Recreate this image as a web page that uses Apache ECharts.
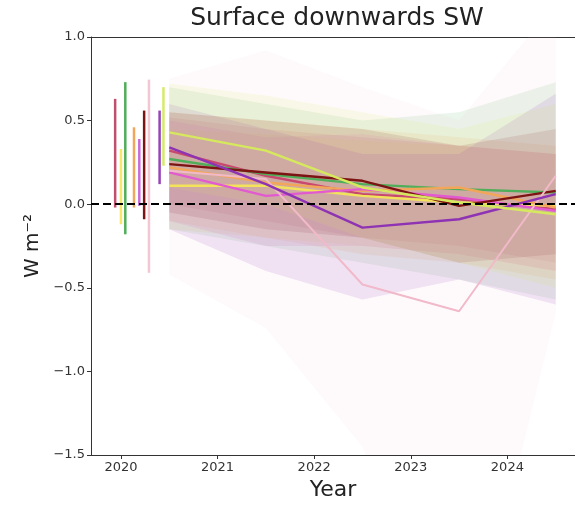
<!DOCTYPE html>
<html>
<head>
<meta charset="utf-8">
<script src="https://cdn.jsdelivr.net/npm/echarts@6/dist/echarts.min.js"></script>
<style>
  html, body { margin: 0; padding: 0; background: #fff; }
  #chart { width: 575px; height: 507px; }
</style>
</head>
<body>
<div id="chart"></div>
<script>
// years of the projection points
const years = [2020.5, 2021.5, 2022.5, 2023.5, 2024.5];
const xTicks = [2020, 2021, 2022, 2023, 2024];
const yTicks = [-1.5, -1.0, -0.5, 0.0, 0.5, 1.0];

// one colour per model
const colors = ['#c9486f', '#f3e35a', '#4fae5a', '#f2a65a', '#e25ad0', '#7d1414', '#f1b9c9', '#8e33b3', '#d6e95e'];
// colour of the short error bars (same models)
const barColors = ['#c0506e', '#f6e66a', '#4fae5a', '#f2a65a', '#c86ad8', '#7d1414', '#f3c6d2', '#9645b8', '#d6ea6a'];

// model means
const means = [
  [0.32, 0.17, 0.06, 0.03, -0.03],
  [0.11, 0.11, 0.05, 0.01, -0.01],
  [0.27, 0.18, 0.12, 0.09, 0.07],
  [0.22, 0.13, 0.08, 0.10, -0.02],
  [0.19, 0.05, 0.09, 0.04, -0.04],
  [0.24, 0.19, 0.14, -0.01, 0.08],
  [0.20, 0.15, -0.48, -0.64, 0.17],
  [0.34, 0.12, -0.14, -0.09, 0.06],
  [0.43, 0.32, 0.10, 0.01, -0.06]
];
// upper edge of the spread
const uppers = [
  [0.52, 0.45, 0.40, 0.35, 0.30],
  [0.45, 0.42, 0.38, 0.35, 0.30],
  [0.70, 0.60, 0.50, 0.55, 0.73],
  [0.55, 0.50, 0.45, 0.40, 0.35],
  [0.50, 0.40, 0.42, 0.35, 0.30],
  [0.55, 0.50, 0.45, 0.35, 0.45],
  [0.75, 0.92, 0.70, 0.50, 1.20],
  [0.60, 0.45, 0.30, 0.30, 0.66],
  [0.72, 0.65, 0.55, 0.45, 0.60]
];
// lower edge of the spread
const lowers = [
  [0.00, -0.10, -0.20, -0.25, -0.35],
  [-0.15, -0.20, -0.25, -0.30, -0.40],
  [-0.15, -0.25, -0.35, -0.45, -0.57],
  [-0.10, -0.20, -0.30, -0.35, -0.45],
  [-0.10, -0.25, -0.25, -0.30, -0.40],
  [-0.05, -0.15, -0.20, -0.35, -0.30],
  [-0.42, -0.74, -1.45, -3.00, -0.65],
  [-0.15, -0.40, -0.57, -0.45, -0.60],
  [0.10, 0.00, -0.20, -0.35, -0.50]
];

// error bars for the reference period
const barX = [2019.94, 2020.0, 2020.045, 2020.135, 2020.19, 2020.24, 2020.29, 2020.40, 2020.44];
const barLow = [-0.02, -0.12, -0.18, -0.02, -0.01, -0.09, -0.41, 0.12, 0.23];
const barHigh = [0.63, 0.33, 0.73, 0.46, 0.39, 0.56, 0.745, 0.56, 0.70];

const bandAlpha = [0.13, 0.13, 0.12, 0.13, 0.12, 0.13, 0.07, 0.12, 0.12];

function hexA(hex, a) {
  const n = parseInt(hex.slice(1), 16);
  return 'rgba(' + (n >> 16) + ',' + ((n >> 8) & 255) + ',' + (n & 255) + ',' + a + ')';
}

const chart = echarts.init(document.getElementById('chart'));
const font = 'DejaVu Sans';
const series = [];

// shaded spreads
means.forEach((m, i) => {
  series.push({
    type: 'custom',
    clip: true,
    z: 1,
    silent: true,
    data: years.map((y, k) => [y, uppers[i][k], lowers[i][k]]),
    renderItem: (params, api) => {
      if (params.dataIndex !== 0) return;
      const top = years.map((y, k) => api.coord([y, uppers[i][k]]));
      const bot = years.map((y, k) => api.coord([y, lowers[i][k]])).reverse();
      return {
        type: 'polygon',
        shape: { points: top.concat(bot) },
        style: { fill: hexA(colors[i], bandAlpha[i]), stroke: 'none' }
      };
    }
  });
});

// mean lines
means.forEach((m, i) => {
  series.push({
    type: 'line',
    z: 3,
    symbol: 'none',
    data: years.map((y, k) => [y, m[k]]),
    lineStyle: { color: colors[i], width: i === 6 ? 2 : 2.4 },
    silent: true
  });
});

// error bars
series.push({
  type: 'custom',
  z: 4,
  silent: true,
  data: barX.map((x, k) => [x, barLow[k], barHigh[k]]),
  renderItem: (params, api) => {
    const k = params.dataIndex;
    const p0 = api.coord([api.value(0), api.value(1)]);
    const p1 = api.coord([api.value(0), api.value(2)]);
    return {
      type: 'line',
      shape: { x1: p0[0], y1: p0[1], x2: p1[0], y2: p1[1] },
      style: { stroke: barColors[k], lineWidth: 2.5 }
    };
  }
});

// zero line
series.push({
  type: 'line',
  z: 5,
  data: [],
  markLine: {
    silent: true,
    symbol: 'none',
    label: { show: false },
    lineStyle: { color: '#000', type: [8, 4], width: 2 },
    data: [{ yAxis: 0 }]
  }
});

const axisFont = { fontFamily: font, fontSize: 13, color: '#333' };

chart.setOption({
  animation: false,
  title: {
    text: 'Surface downwards SW',
    left: 332,
    textAlign: 'center',
    top: 1,
    textStyle: { fontFamily: font, fontSize: 25, fontWeight: 'normal', color: '#222' }
  },
  grid: { left: 91, right: 0, top: 37, bottom: 52 },
  xAxis: [{
    type: 'value',
    min: 2019.69,
    max: 2024.70,
    name: 'Year',
    nameLocation: 'middle',
    nameGap: 24,
    nameTextStyle: { fontFamily: font, fontSize: 22, color: '#222' },
    splitLine: { show: false },
    axisLine: { onZero: false, lineStyle: { color: '#333' } },
    axisTick: { length: 4, customValues: xTicks, lineStyle: { color: '#333' } },
    axisLabel: Object.assign({ customValues: xTicks, margin: 6, formatter: v => String(v) }, axisFont)
  }, {
    type: 'value',
    position: 'top',
    min: 2019.69,
    max: 2024.70,
    splitLine: { show: false },
    axisLine: { show: true, onZero: false, lineStyle: { color: '#333' } },
    axisTick: { show: false },
    axisLabel: { show: false }
  }],
  yAxis: {
    type: 'value',
    min: yTicks[0],
    max: yTicks[yTicks.length - 1],
    interval: 0.5,
    name: 'W m\u207B\u00B2',
    nameLocation: 'middle',
    nameRotate: 90,
    nameGap: 39,
    nameTextStyle: { fontFamily: font, fontSize: 20, color: '#222' },
    splitLine: { show: false },
    axisLine: { show: true, onZero: false, lineStyle: { color: '#333' } },
    axisTick: { show: true, length: 4, lineStyle: { color: '#333' } },
    axisLabel: Object.assign({
      margin: 6,
      formatter: v => (v < 0 ? '\u2212' : '') + Math.abs(v).toFixed(1)
    }, axisFont)
  },
  series: series
});
</script>
</body>
</html>
